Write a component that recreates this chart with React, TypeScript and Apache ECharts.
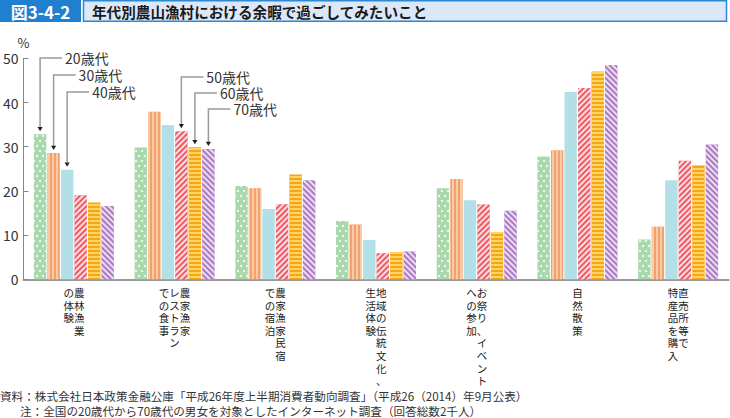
import React, { useEffect, useRef } from "react";
import * as echarts from "echarts";

const categories = [
  "農林漁業\nの体験",
  "農家漁家\nレストラン\nでの食事",
  "農家漁家民宿\nでの宿泊",
  "地域の伝統文化、\n生活体験",
  "お祭り、イベント\nへの参加",
  "自然散策",
  "直売所等で\n特産品を購入",
];
const ageNames = ["20歳代", "30歳代", "40歳代", "50歳代", "60歳代", "70歳代"];
const age20 = [32.8, 29.8, 21.1, 13.2, 20.6, 27.8, 9.0];
const age30 = [28.6, 37.9, 20.6, 12.4, 22.7, 29.2, 11.9];
const age40 = [24.8, 34.9, 15.9, 8.9, 17.9, 42.4, 22.4];
const age50 = [19.0, 33.5, 17.0, 5.9, 16.9, 43.3, 26.8];
const age60 = [17.4, 29.9, 23.7, 6.1, 10.7, 47.0, 25.8];
const age70 = [16.6, 29.5, 22.4, 6.3, 15.5, 48.5, 30.5];
const yTicks = [0, 10, 20, 30, 40, 50];

const titleNo = "図3-4-2";
const titleText = "年代別農山漁村における余暇で過ごしてみたいこと";
const note1 = "資料：株式会社日本政策金融公庫「平成26年度上半期消費者動向調査」（平成26（2014）年9月公表）";
const note2 = "注：全国の20歳代から70歳代の男女を対象としたインターネット調査（回答総数2千人）";

const FONT = '"Noto Sans CJK JP", "Noto Sans", sans-serif';

const seriesData = [age20, age30, age40, age50, age60, age70];
const barColors = ["#a8d8ab", "#f2a06c", "#b3e0e6", "#ef5a66", "#f6a612", "#ac78c4"];
const decals: any[] = [
  {
    symbol: "circle",
    symbolSize: 1,
    color: "rgba(255,255,255,0.95)",
    dashArrayX: [
      [1.8, 3.6],
      [0, 2.7, 1.8, 0.9],
    ],
    dashArrayY: [1.8, 2.4],
  },
  { symbol: "rect", symbolSize: 1, color: "#f9cba6", dashArrayX: [1.3, 1.6], dashArrayY: [1, 0] },
  null,
  {
    symbol: "rect",
    symbolSize: 1,
    color: "rgba(255,255,255,0.8)",
    dashArrayX: [1, 0],
    dashArrayY: [1.5, 1.5],
    rotation: -Math.PI / 4,
  },
  { symbol: "rect", symbolSize: 1, color: "#fcd468", dashArrayX: [1, 0], dashArrayY: [1.4, 1.6] },
  {
    symbol: "rect",
    symbolSize: 1,
    color: "rgba(255,255,255,0.75)",
    dashArrayX: [1, 0],
    dashArrayY: [1.5, 1.5],
    rotation: Math.PI / 4,
  },
];

// callouts: [series index, category index, label pixel y]
const callouts = [
  [0, 0, 58],
  [1, 0, 75],
  [2, 0, 92],
  [3, 1, 77],
  [4, 1, 93],
  [5, 1, 109],
];

const BAR_W = 12.4;
const BAR_GAP = 0.09;

function verticalLabel(v: string) {
  const cols = v.split("\n").map((c) => Array.from(c));
  const rows = Math.max(...cols.map((c) => c.length));
  const lines: string[] = [];
  const rev = cols.slice().reverse();
  for (let r = 0; r < rows; r++) {
    lines.push(rev.map((c) => (c[r] !== undefined ? c[r] : "　")).join(""));
  }
  return lines.join("\n");
}

export default function App() {
  const ref = useRef<HTMLDivElement>(null);
  useEffect(() => {
    if (!ref.current) return;
    const chart = echarts.init(ref.current, null, { renderer: "svg" });
    const option: any = {
      animation: false,
      grid: { left: 21.5, right: 1.5, top: 58.3, bottom: 138.7, containLabel: false },
      xAxis: {
        type: "category",
        data: categories,
        axisLine: { lineStyle: { color: "#9a9a9a", width: 2 } },
        axisTick: { show: false },
        axisLabel: {
          interval: 0,
          formatter: verticalLabel,
          fontFamily: FONT,
          fontSize: 10.5,
          lineHeight: 12.6,
          color: "#222",
          margin: 7,
          verticalAlign: "top",
        },
      },
      yAxis: {
        type: "value",
        min: 0,
        max: 50,
        interval: 10,
        name: "%",
        nameLocation: "end",
        nameGap: 9,
        nameTextStyle: { fontFamily: FONT, fontSize: 13, color: "#333", align: "center" },
        axisLine: { show: true, lineStyle: { color: "#888", width: 1 } },
        axisTick: { show: true, inside: true, length: 5, lineStyle: { color: "#888" } },
        splitLine: { show: false },
        axisLabel: {
          fontFamily: FONT,
          fontSize: 14,
          color: "#333",
          margin: 5,
          customValues: yTicks,
        },
      },
      series: seriesData.map((d, i) => ({
        type: "bar",
        name: ageNames[i],
        data: d,
        barWidth: BAR_W,
        barGap: BAR_GAP * 100 + "%",
        itemStyle: decals[i]
          ? { color: barColors[i], decal: decals[i] }
          : { color: barColors[i] },
      })),
    };
    chart.setOption(option);

    const step = BAR_W * (1 + BAR_GAP);
    const n = seriesData.length;

    const graphics: any[] = [
      // title
      { type: "rect", shape: { x: 0, y: 0, width: 81, height: 22 }, style: { fill: "#1f80cf" }, z: 10 },
      {
        type: "text",
        x: 40.5,
        y: 11.5,
        style: {
          text: titleNo,
          fill: "#fff",
          font: `bold 17px ${FONT}`,
          align: "center",
          verticalAlign: "middle",
        },
        z: 11,
      },
      {
        type: "rect",
        shape: { x: 83.5, y: 0.75, width: 643, height: 20.5 },
        style: { fill: "#dce8f8", stroke: "#2a8ad6", lineWidth: 1.5 },
        z: 10,
      },
      {
        type: "text",
        x: 92,
        y: 11.5,
        style: {
          text: titleText,
          fill: "#1a1a1a",
          font: `bold 14.6px ${FONT}`,
          align: "left",
          verticalAlign: "middle",
        },
        z: 11,
      },
      // notes
      {
        type: "text",
        x: 0,
        y: 396,
        style: { text: note1, fill: "#333", font: `11.6px ${FONT}`, align: "left", verticalAlign: "middle" },
      },
      {
        type: "text",
        x: 20,
        y: 411,
        style: { text: note2, fill: "#333", font: `11.6px ${FONT}`, align: "left", verticalAlign: "middle" },
      },
    ];

    callouts.forEach(([si, ci, ty]) => {
      const val = seriesData[si][ci];
      const pt = chart.convertToPixel({ gridIndex: 0 }, [ci, val]) as number[];
      const cx = pt[0] + (si - (n - 1) / 2) * step;
      const tip = pt[1] - 3;
      const tx = cx + 25;
      graphics.push({
        type: "polyline",
        shape: {
          points: [
            [tx - 3, ty],
            [cx, ty],
            [cx, tip - 4],
          ],
        },
        style: { stroke: "#9a9a9a", lineWidth: 1.5, fill: null },
        z: 5,
      });
      graphics.push({
        type: "polygon",
        shape: {
          points: [
            [cx - 2.6, tip - 4.2],
            [cx + 2.6, tip - 4.2],
            [cx, tip],
          ],
        },
        style: { fill: "#222" },
        z: 6,
      });
      graphics.push({
        type: "text",
        x: tx,
        y: ty,
        style: {
          text: ageNames[si],
          fill: "#333",
          font: `14px ${FONT}`,
          align: "left",
          verticalAlign: "middle",
        },
        z: 6,
      });
    });

    chart.setOption({ graphic: graphics });
    return () => chart.dispose();
  }, []);
  return (
    <div
      ref={ref}
      style={{ position: "fixed", left: 0, top: 0, width: 730, height: 418, background: "#fff" }}
    />
  );
}
